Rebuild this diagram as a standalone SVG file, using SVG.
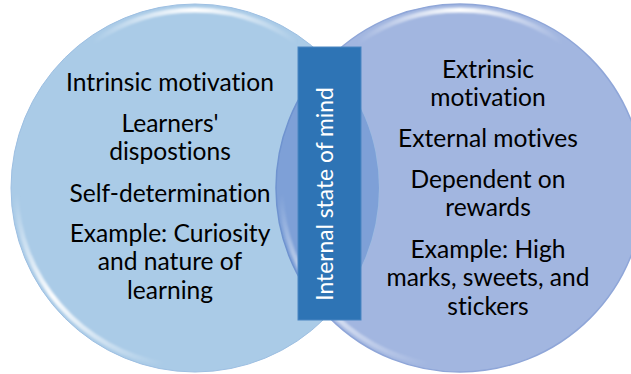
<svg xmlns="http://www.w3.org/2000/svg" width="631" height="374" viewBox="0 0 631 374">
<style>
.t{font-family:Lato,"Liberation Sans",sans-serif;font-size:24.6px;fill:#000;text-anchor:middle;font-variant-ligatures:none}
.v{font-family:Lato,"Liberation Sans",sans-serif;font-size:22.8px;fill:#fff;text-anchor:middle;font-variant-ligatures:none}
.hl{fill:none;stroke-width:5;stroke-linecap:round}
</style>
<defs>
<clipPath id="clipL"><circle cx="195" cy="188" r="184"/></clipPath>
<linearGradient id="topL" gradientUnits="userSpaceOnUse" x1="93" y1="0" x2="297" y2="0"><stop offset="0" stop-color="#fff" stop-opacity="0"/><stop offset="0.5" stop-color="#fff" stop-opacity="1"/><stop offset="1" stop-color="#fff" stop-opacity="0"/></linearGradient>
<linearGradient id="botL" gradientUnits="userSpaceOnUse" x1="16" y1="194" x2="164" y2="364"><stop offset="0" stop-color="#fff" stop-opacity="0"/><stop offset="0.45" stop-color="#fff" stop-opacity="0.95"/><stop offset="1" stop-color="#fff" stop-opacity="0"/></linearGradient>
<linearGradient id="topR" gradientUnits="userSpaceOnUse" x1="358" y1="0" x2="562" y2="0"><stop offset="0" stop-color="#fff" stop-opacity="0"/><stop offset="0.5" stop-color="#fff" stop-opacity="1"/><stop offset="1" stop-color="#fff" stop-opacity="0"/></linearGradient>
<linearGradient id="botR" gradientUnits="userSpaceOnUse" x1="281" y1="194" x2="429" y2="364"><stop offset="0" stop-color="#fff" stop-opacity="0"/><stop offset="0.45" stop-color="#fff" stop-opacity="0.9"/><stop offset="1" stop-color="#fff" stop-opacity="0"/></linearGradient>
<filter id="soft" x="-10%" y="-10%" width="120%" height="120%"><feGaussianBlur stdDeviation="1.2"/></filter>
</defs>

<g id="circle-extrinsic">
<circle cx="460" cy="188" r="184" fill="#A2B6E0" stroke="#8FA6D8" stroke-width="1.5"/>
<path class="hl" d="M357.9,42.2 A178,178 0 0 1 562.1,42.2" stroke="url(#topR)" filter="url(#soft)"/>
</g>

<g id="circle-intrinsic">
<circle cx="195" cy="188" r="184" fill="#AACBE7" stroke="#9DBFE2" stroke-width="1"/>
<path class="hl" d="M92.9,42.2 A178,178 0 0 1 297.1,42.2" stroke="url(#topL)" filter="url(#soft)"/>
<path class="hl" d="M16.1,194.2 A179,179 0 0 0 163.9,364.3" stroke="url(#botL)" filter="url(#soft)"/>
</g>

<g id="overlap">
<circle cx="460" cy="188" r="184" fill="#7EA0D7" stroke="#6F93CF" stroke-width="1.5" clip-path="url(#clipL)"/>
<path class="hl" d="M281.1,194.2 A179,179 0 0 0 428.9,364.3" stroke="url(#botR)" filter="url(#soft)" opacity="0.8"/>
</g>

<g id="internal-state">
<rect x="298" y="47" width="63" height="273" fill="#2E74B5" stroke="#4A86C2" stroke-width="1"/>
<text class="v" transform="translate(333,194) rotate(-90)">Internal state of mind</text>
</g>

<g id="text-intrinsic">
<text class="t" x="170" y="90.5">Intrinsic motivation</text>
<text class="t" x="170" y="132">Learners'</text>
<text class="t" x="170" y="160">dispostions</text>
<text class="t" x="170" y="202">Self-determination</text>
<text class="t" x="170" y="242">Example: Curiosity</text>
<text class="t" x="170" y="270">and nature of</text>
<text class="t" x="170" y="298.5">learning</text>
</g>

<g id="text-extrinsic">
<text class="t" x="488" y="77.5">Extrinsic</text>
<text class="t" x="488" y="106">motivation</text>
<text class="t" x="488" y="146.5">External motives</text>
<text class="t" x="488" y="188">Dependent on</text>
<text class="t" x="488" y="216">rewards</text>
<text class="t" x="488" y="257.5">Example: High</text>
<text class="t" x="488" y="286">marks, sweets, and</text>
<text class="t" x="488" y="314.5">stickers</text>
</g>
<g id="connectors"/>
</svg>
